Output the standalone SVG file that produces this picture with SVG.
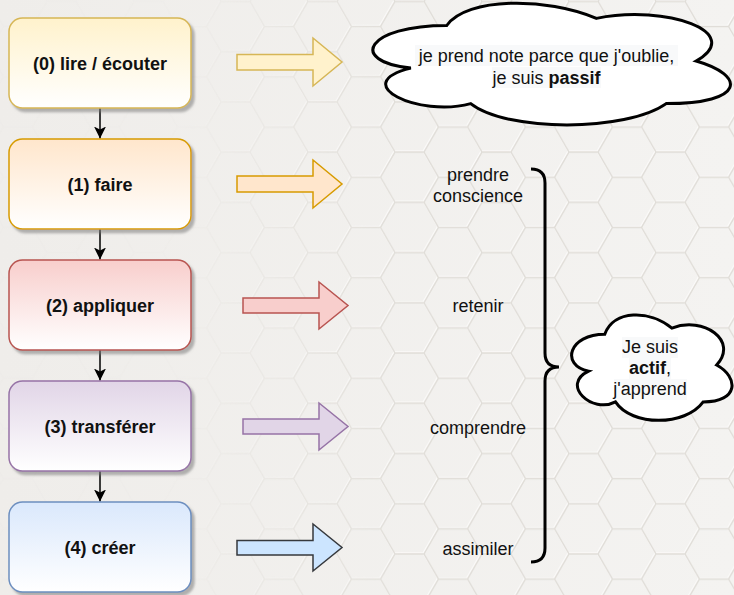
<svg xmlns="http://www.w3.org/2000/svg" width="734" height="595" viewBox="0 0 734 595">
  <defs>
    <style>
      .t { font-family: "Liberation Sans", Arial, Helvetica, sans-serif; font-size: 18px; fill: #111111; text-anchor: middle; }
      .b { font-weight: bold; }
      .box { stroke-width: 1.5; filter: url(#sh); }
      .blk { stroke-width: 1.5; stroke-linejoin: miter; }
      .cloud { fill: #ffffff; stroke: #000000; stroke-width: 3; }
      .hl { fill: #f8f9fa; }
      .conn { stroke: #000000; stroke-width: 1.5; fill: none; marker-end: url(#ah); }
      .hex { fill: none; stroke: #e0ddd8; stroke-width: 1.4; }
      .hexw { fill: none; stroke: #fbfaf9; stroke-width: 1.2; }
    </style>
    <linearGradient id="bg" x1="0" y1="0" x2="1" y2="0">
      <stop offset="0" stop-color="#efedea"/>
      <stop offset="1" stop-color="#f4f3f1"/>
    </linearGradient>
    <linearGradient id="fade" x1="0" y1="0" x2="734" y2="0" gradientUnits="userSpaceOnUse">
      <stop offset="0.25" stop-color="#fff" stop-opacity="0.05"/>
      <stop offset="0.55" stop-color="#fff" stop-opacity="1"/>
    </linearGradient>
    <mask id="m">
      <rect x="0" y="0" width="734" height="595" fill="url(#fade)"/>
    </mask>
    <pattern id="hexp" patternUnits="userSpaceOnUse" x="18" y="1.4" width="87" height="50.23">
      <path class="hexw" transform="translate(-1,-1)" d="M-29,0 l14.5,-25.11 h29 l14.5,25.11 l-14.5,25.11 h-29 z M58,0 l14.5,-25.11 h29 l14.5,25.11 l-14.5,25.11 h-29 z M-29,50.23 l14.5,-25.11 h29 l14.5,25.11 l-14.5,25.11 h-29 z M58,50.23 l14.5,-25.11 h29 l14.5,25.11 l-14.5,25.11 h-29 z M14.5,25.11 l14.5,-25.11 h29 l14.5,25.11 l-14.5,25.11 h-29 z"/>
      <path class="hex" d="M-29,0 l14.5,-25.11 h29 l14.5,25.11 l-14.5,25.11 h-29 z M58,0 l14.5,-25.11 h29 l14.5,25.11 l-14.5,25.11 h-29 z M-29,50.23 l14.5,-25.11 h29 l14.5,25.11 l-14.5,25.11 h-29 z M58,50.23 l14.5,-25.11 h29 l14.5,25.11 l-14.5,25.11 h-29 z M14.5,25.11 l14.5,-25.11 h29 l14.5,25.11 l-14.5,25.11 h-29 z"/>
    </pattern>
    <linearGradient id="g0" x1="0" y1="0" x2="0" y2="1"><stop offset="0" stop-color="#fff2cc"/><stop offset="1" stop-color="#ffffff"/></linearGradient>
    <linearGradient id="g1" x1="0" y1="0" x2="0" y2="1"><stop offset="0" stop-color="#ffe6cc"/><stop offset="1" stop-color="#ffffff"/></linearGradient>
    <linearGradient id="g2" x1="0" y1="0" x2="0" y2="1"><stop offset="0" stop-color="#f8cecc"/><stop offset="1" stop-color="#ffffff"/></linearGradient>
    <linearGradient id="g3" x1="0" y1="0" x2="0" y2="1"><stop offset="0" stop-color="#e1d5e7"/><stop offset="1" stop-color="#ffffff"/></linearGradient>
    <linearGradient id="g4" x1="0" y1="0" x2="0" y2="1"><stop offset="0" stop-color="#dae8fc"/><stop offset="1" stop-color="#ffffff"/></linearGradient>
    <filter id="sh" x="-10%" y="-10%" width="130%" height="130%">
      <feDropShadow dx="3" dy="3.5" stdDeviation="1" flood-color="#7a7a7a" flood-opacity="0.55"/>
    </filter>
    <marker id="ah" markerUnits="userSpaceOnUse" markerWidth="14" markerHeight="14" refX="12" refY="6" orient="auto">
      <path d="M0,0 L12,6 L0,12 L3,6 Z" fill="#000000"/>
    </marker>
  </defs>

  <g id="background">
    <rect x="0" y="0" width="734" height="595" fill="url(#bg)"/>
    <rect x="0" y="0" width="734" height="595" fill="url(#hexp)" mask="url(#m)"/>
  </g>

  <g id="connectors">
    <path class="conn" d="M100,108 L100,138.5"/>
    <path class="conn" d="M100,229 L100,259.5"/>
    <path class="conn" d="M100,350 L100,380.5"/>
    <path class="conn" d="M100,471 L100,501.5"/>
  </g>

  <g id="node0">
    <rect class="box" x="9" y="18" width="182" height="90" rx="13.5" fill="url(#g0)" stroke="#d6b656"/>
    <text class="t b" x="100" y="70">(0) lire / écouter</text>
  </g>
  <g id="node1">
    <rect class="box" x="9" y="139" width="182" height="90" rx="13.5" fill="url(#g1)" stroke="#d79b00"/>
    <text class="t b" x="100" y="191">(1) faire</text>
  </g>
  <g id="node2">
    <rect class="box" x="9" y="260" width="182" height="90" rx="13.5" fill="url(#g2)" stroke="#b85450"/>
    <text class="t b" x="100" y="312">(2) appliquer</text>
  </g>
  <g id="node3">
    <rect class="box" x="9" y="381" width="182" height="90" rx="13.5" fill="url(#g3)" stroke="#9673a6"/>
    <text class="t b" x="100" y="433">(3) transférer</text>
  </g>
  <g id="node4">
    <rect class="box" x="9" y="502" width="182" height="90" rx="13.5" fill="url(#g4)" stroke="#6c8ebf"/>
    <text class="t b" x="100" y="554">(4) créer</text>
  </g>

  <g id="arrow0">
    <path class="blk" d="M237,54.5 H313 V38 L342,62 L313,86 V70 H237 Z" fill="#fff2cc" stroke="#d6b656"/>
  </g>
  <g id="arrow1">
    <path class="blk" d="M237,176 H313 V160 L342,184 L313,208 V192 H237 Z" fill="#ffe6cc" stroke="#d79b00"/>
  </g>
  <g id="arrow2">
    <path class="blk" d="M243,298 H319 V282 L348,305.5 L319,329 V313 H243 Z" fill="#f8cecc" stroke="#b85450"/>
  </g>
  <g id="arrow3">
    <path class="blk" d="M243,419 H319 V403 L348,426.5 L319,450 V434 H243 Z" fill="#e1d5e7" stroke="#9673a6"/>
  </g>
  <g id="arrow4">
    <path class="blk" d="M237,540.5 H313 V524 L342,547.5 L313,571 V555 H237 Z" fill="#cce5ff" stroke="#36393d"/>
  </g>

  <g id="cloud-passif">
    <path class="cloud" d="M446.75,25.5 C366.95,25.5 347,61 410.84,68.1 C347,83.72 418.82,117.8 470.69,103.6 C506.6,132 626.3,132 666.2,103.6 C746,103.6 746,75.2 696.13,61 C746,32.6 666.2,4.2 596.38,18.4 C546.5,-2.9 466.7,-2.9 446.75,25.5 Z"/>
    <rect class="hl" x="415" y="45" width="263" height="21"/>
    <rect class="hl" x="492" y="67" width="109" height="21"/>
    <text class="t" x="546.5" y="61.5">je prend note parce que j'oublie,</text>
    <text class="t" x="546.5" y="83.5">je suis <tspan class="b">passif</tspan></text>
  </g>

  <g id="label-prendre-conscience">
    <text class="t" x="478" y="181">prendre</text>
    <text class="t" x="478" y="202">conscience</text>
  </g>
  <g id="label-retenir">
    <text class="t" x="478" y="312">retenir</text>
  </g>
  <g id="label-comprendre">
    <text class="t" x="478" y="434">comprendre</text>
  </g>
  <g id="label-assimiler">
    <text class="t" x="478" y="555">assimiler</text>
  </g>

  <g id="brace">
    <path d="M531,169 Q545,169 545,183 L545,353 Q545,367 559,367 Q545,367 545,381 L545,548 Q545,562 531,562" fill="none" stroke="#000000" stroke-width="3"/>
  </g>

  <g id="cloud-actif">
    <path class="cloud" d="M604.75,334.25 C568.95,334.25 560,365 588.64,371.15 C560,384.68 592.22,414.2 615.49,401.9 C631.6,426.5 685.3,426.5 703.2,401.9 C739,401.9 739,377.3 716.63,365 C739,340.4 703.2,315.8 671.88,328.1 C649.5,309.65 613.7,309.65 604.75,334.25 Z"/>
    <rect class="hl" x="622" y="337" width="56" height="21"/>
    <rect class="hl" x="629" y="358" width="42" height="21"/>
    <rect class="hl" x="614" y="379" width="73" height="21"/>
    <text class="t" x="650" y="353">Je suis</text>
    <text class="t" x="650" y="374"><tspan class="b">actif</tspan>,</text>
    <text class="t" x="650" y="395">j'apprend</text>
  </g>
</svg>
